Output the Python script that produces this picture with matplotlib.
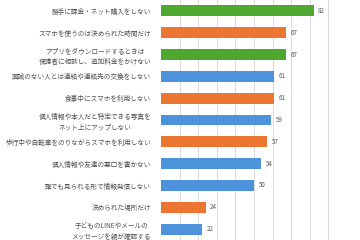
import matplotlib.pyplot as plt

plt.rcParams['font.family'] = ['Noto Sans CJK JP', 'DejaVu Sans']

# 項目ラベル（上から順）
labels = [
    '勝手に課金・ネット購入をしない',
    'スマホを使うのは決められた時間だけ',
    'アプリをダウンロードするときは\n保護者に相談し、追加料金をかけない',
    '面識のない人とは連絡や連絡先の交換をしない',
    '食事中にスマホを利用しない',
    '個人情報や本人だと特定できる写真を\nネット上にアップしない',
    '歩行中や自転車をのりながらスマホを利用しない',
    '個人情報や友達の悪口を書かない',
    '誰でも見られる形で情報発信しない',
    '決められた場所だけ',
    '子どものLINEやメールの\nメッセージを親が確認する',
]
values = [82, 67, 67, 61, 61, 59, 57, 54, 50, 24, 22]
groups = ['g', 'o', 'g', 'b', 'o', 'b', 'o', 'b', 'b', 'o', 'b']

palette = {'g': '#4ea72e', 'o': '#ec7532', 'b': '#4d93dc'}
colors = [palette[k] for k in groups]

fig = plt.figure(figsize=(3.6, 2.4), dpi=100)
ax = fig.add_axes([0.447, 0.0, 0.517, 1.0])

ypos = list(range(len(values)))
ax.barh(ypos, values, height=0.5, color=colors, zorder=2)

for y, v in zip(ypos, values):
    ax.text(v + 2.5, y, str(v), va='center', ha='left', fontsize=4.5, color='#595959')

ax.set_xlim(0, 100)
ax.set_ylim(len(values) - 0.5, -0.5)
ax.set_xticks(range(10, 101, 10))
ax.xaxis.grid(True, color='#dcdcdc', linewidth=0.8, zorder=0)
ax.tick_params(axis='x', length=0, labelbottom=False)
ax.tick_params(axis='y', length=0, pad=7)
ax.set_yticks(ypos)
ax.set_yticklabels(labels, fontsize=4.8, color='#505050', linespacing=1.4)
for t in ax.get_yticklabels():
    t.set_multialignment('center')

for s in ax.spines.values():
    s.set_visible(False)

fig.savefig('out.png', dpi=100)
